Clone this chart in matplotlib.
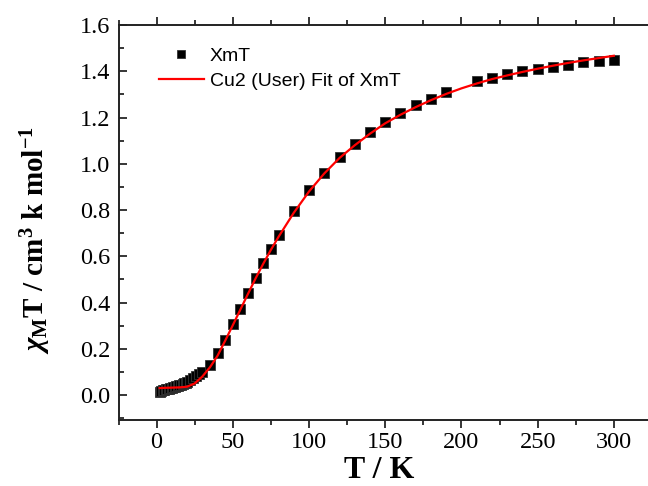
import matplotlib
matplotlib.use("Agg")
import matplotlib.pyplot as plt
from matplotlib.ticker import MultipleLocator, FormatStrFormatter

# Measured chi_M*T (cm^3 K mol^-1) versus temperature (K)
temp_K = [2, 3, 4, 5, 6, 7, 8, 9, 10, 11, 12, 13, 14, 15, 16, 17, 18, 19, 20,
          22, 24, 26, 28, 30, 35, 40, 45, 50, 55, 60, 65, 70, 75, 80, 90, 100,
          110, 120, 130, 140, 150, 160, 170, 180, 190, 210, 220, 230, 240, 250,
          260, 270, 280, 290, 300]
xmt = [0.015, 0.018, 0.020, 0.022, 0.024, 0.026, 0.028, 0.030, 0.032, 0.034,
       0.036, 0.038, 0.040, 0.042, 0.045, 0.048, 0.051, 0.054, 0.058,
       0.065, 0.073, 0.082, 0.092, 0.100, 0.129, 0.180, 0.239, 0.305, 0.371,
       0.440, 0.507, 0.572, 0.633, 0.694, 0.794, 0.886,
       0.960, 1.029, 1.087, 1.139, 1.182, 1.219, 1.254, 1.282, 1.310, 1.360,
       1.370, 1.389, 1.402, 1.410, 1.420, 1.426, 1.438, 1.445, 1.449]

# Bleaney-Bowers (Cu2) fit curve
fit_T = [2, 5, 10, 15, 20, 25, 30, 35, 40, 45, 50, 55, 60, 65, 70, 75, 80, 90,
         100, 110, 120, 130, 140, 150, 160, 170, 180, 190, 200, 210, 220, 230,
         240, 250, 260, 270, 280, 290, 300]
fit_xmt = [0.030, 0.031, 0.032, 0.033, 0.036, 0.050, 0.080, 0.120, 0.170,
           0.235, 0.302, 0.370, 0.438, 0.505, 0.568, 0.628, 0.684, 0.788,
           0.880, 0.958, 1.025, 1.080, 1.130, 1.175, 1.212, 1.245, 1.275,
           1.302, 1.326, 1.347, 1.366, 1.382, 1.397, 1.411, 1.424, 1.436,
           1.447, 1.457, 1.467]

plt.rcParams["font.family"] = ["Liberation Serif", "DejaVu Serif"]
plt.rcParams["mathtext.fontset"] = "custom"
plt.rcParams["mathtext.rm"] = "Liberation Serif:bold"
plt.rcParams["mathtext.it"] = "Liberation Serif:italic:bold"
plt.rcParams["mathtext.bf"] = "Liberation Serif:bold"

W, H = 648, 486
fig = plt.figure(figsize=(W / 100, H / 100), dpi=100)
left, right, top, bottom = 118.5, 655, 25, 420
ax = fig.add_axes([left / W, 1 - bottom / H, (right - left) / W, (bottom - top) / H])

ax.plot(temp_K, xmt, linestyle="none", marker="s", ms=7.5, color="black",
        mec="#333333", mew=0.6, label="XmT", zorder=3)
ax.plot(fit_T, fit_xmt, color="#ff0000", lw=1.6, label="Cu2 (User) Fit of XmT",
        zorder=4)

ax.set_xlim(-25, 327)
ax.set_ylim(-0.108, 1.6)

ax.xaxis.set_major_locator(MultipleLocator(50))
ax.xaxis.set_minor_locator(MultipleLocator(25))
ax.yaxis.set_major_locator(MultipleLocator(0.2))
ax.yaxis.set_minor_locator(MultipleLocator(0.1))
ax.yaxis.set_major_formatter(FormatStrFormatter("%.1f"))

for s in ax.spines.values():
    s.set_linewidth(1.4)
    s.set_color("#222222")
ax.spines["right"].set_visible(False)

ax.tick_params(axis="x", which="major", direction="out", length=6, width=1.1,
               pad=3, labelsize=17.5)
ax.tick_params(axis="x", which="minor", direction="out", length=3.5, width=1.1)
ax.tick_params(axis="x", which="both", top=True, labeltop=False)
ax.tick_params(axis="y", which="major", direction="in", length=6, width=1.1,
               pad=6, labelsize=17.5)
ax.tick_params(axis="y", which="minor", direction="in", length=3.5, width=1.1)

fig.text(379 / W, 8 / H, "T / K", ha="center", va="baseline",
         fontfamily="Liberation Serif", fontweight="bold", fontsize=23)
fig.text(36 / W, 1 - 240 / H,
         r"$\chi_\mathrm{M}\mathrm{T}$ / cm$^\mathrm{3}$ k mol$^\mathrm{-1}$",
         rotation=90, ha="center", va="center",
         fontfamily="Liberation Serif", fontweight="bold", fontsize=21)

leg = ax.legend(loc="upper left", bbox_to_anchor=(159 / W, 1 - 47 / H),
                bbox_transform=fig.transFigure, frameon=False, borderpad=0,
                borderaxespad=0, handlelength=2.3, handletextpad=0.3,
                labelspacing=0.4, numpoints=1, markerscale=0.85,
                prop={"family": "Liberation Sans", "size": 14})

fig.savefig("out.png", dpi=100)
